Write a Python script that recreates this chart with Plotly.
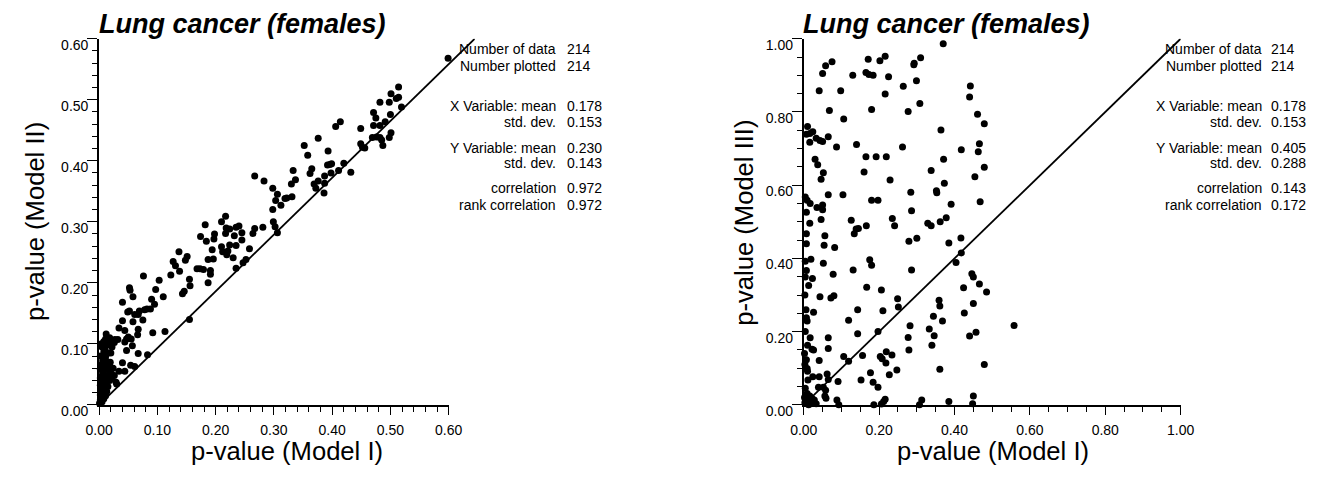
import plotly.graph_objects as go

W, H = 1333, 481
FONT = "Liberation Sans, Arial, sans-serif"

# ---------------- data ----------------
left_x = [0.599,0.514,0.501,0.514,0.510,0.482,0.498,0.519,0.471,0.475,0.500,0.491,0.482,0.471,0.449,0.406,0.414,0.376,0.352,0.393,
          0.358,0.449,0.452,0.456,0.469,0.476,0.482,0.485,0.498,0.501,0.487,0.420,0.411,0.398,0.432,0.392,0.396,0.399,0.365,0.362,
          0.333,0.337,0.330,0.387,0.376,0.369,0.372,0.387,0.386,0.267,0.283,0.298,0.306,0.303,0.319,0.322,0.312,0.331,0.298,0.299,
          0.302,0.306,0.281,0.267,0.264,0.240,0.245,0.245,0.258,0.252,0.247,
          0.235,0.232,0.198,0.197,0.184,0.174,0.217,0.182,0.218,0.224,
          0.137,0.151,0.148,0.127,0.131,0.138,0.123,0.076,0.103,0.097,0.110,0.090,0.095,0.088,0.082,0.078,0.069,0.067,0.061,0.058,
          0.075,0.052,0.049,0.040,0.052,0.053,0.058,0.040,0.034,0.044,0.067,0.066,0.092,0.113,0.047,0.050,0.055,0.044,0.057,0.047,
          0.067,0.083,0.040,0.054,0.061,0.044,0.034,0.026,0.029,0.030,0.022,0.016,0.011,0.005,0.013,0.011,0.008,0.005,0.012,0.011,
          0.019,0.027,0.032,0.023,0.002,0.005,0.004,0.002,0.008,0.005,0.002,0.001,
          0.143,0.155,0.156,0.168,0.173,0.179,0.191,0.191,0.187,0.187,0.196,0.194,0.210,0.212,0.219,0.224,0.221,0.235,0.230,0.235,
          0.155,0.210,0.217,0.146,
          0.002,0.004,0.006,0.003,0.008,0.010,0.012,0.005,0.002,0.007,0.009,0.014,0.003,0.006,0.002,0.010,0.014,0.018,0.008,0.004,
          0.016,0.019,0.001,0.005,0.008,0.011,0.013,0.015,0.018,0.020,0.024,0.006,0.012,0.016,0.022,0.026,0.020]
left_y = [0.568,0.521,0.510,0.504,0.502,0.496,0.496,0.488,0.479,0.470,0.476,0.464,0.458,0.458,0.453,0.456,0.464,0.437,0.425,0.416,
          0.409,0.428,0.422,0.421,0.438,0.439,0.438,0.434,0.438,0.446,0.425,0.396,0.384,0.380,0.381,0.393,0.394,0.395,0.387,0.379,
          0.384,0.369,0.362,0.375,0.367,0.362,0.355,0.363,0.347,0.375,0.367,0.355,0.345,0.335,0.338,0.339,0.327,0.341,0.320,0.300,
          0.292,0.282,0.291,0.289,0.281,0.293,0.282,0.270,0.256,0.238,0.233,
          0.291,0.277,0.280,0.272,0.268,0.276,0.281,0.295,0.290,0.288,
          0.251,0.243,0.237,0.235,0.228,0.219,0.213,0.211,0.204,0.189,0.177,0.173,0.165,0.157,0.157,0.156,0.154,0.148,0.148,0.136,
          0.139,0.154,0.152,0.168,0.192,0.188,0.177,0.138,0.126,0.122,0.124,0.115,0.118,0.120,0.108,0.111,0.108,0.103,0.097,0.089,
          0.084,0.082,0.069,0.065,0.063,0.055,0.055,0.048,0.037,0.034,0.045,0.058,0.058,0.061,0.071,0.079,0.087,0.095,0.116,0.108,
          0.106,0.107,0.107,0.103,0.058,0.048,0.037,0.032,0.029,0.021,0.016,0.003,
          0.182,0.206,0.195,0.223,0.223,0.222,0.220,0.214,0.200,0.238,0.239,0.254,0.259,0.251,0.246,0.262,0.252,0.261,0.241,0.224,
          0.140,0.300,0.309,0.186,
          0.008,0.012,0.020,0.025,0.018,0.026,0.034,0.038,0.044,0.050,0.042,0.048,0.065,0.072,0.080,0.090,0.098,0.110,0.104,0.100,
          0.062,0.070,0.002,0.005,0.010,0.015,0.022,0.030,0.040,0.052,0.060,0.058,0.064,0.085,0.095,0.102,0.085]

right_x = [0.370,0.075,0.058,0.050,0.171,0.202,0.216,0.293,0.292,0.310,0.130,0.165,0.173,0.184,0.225,0.299,0.264,0.216,0.308,0.041,
           0.098,0.068,0.106,0.180,0.277,0.442,0.440,0.461,0.479,0.364,0.010,0.007,0.016,0.024,0.016,0.033,0.043,0.050,0.065,0.087,
           0.140,0.262,0.466,0.463,0.418,0.479,0.371,0.165,0.192,0.219,0.030,0.037,0.052,0.046,0.160,0.229,0.338,0.454,0.373,0.352,
           0.353,0.284,0.065,0.104,0.468,0.180,0.197,0.004,0.009,0.017,0.035,0.050,0.050,0.007,0.286,0.391,0.046,0.126,0.235,0.362,
           0.378,0.329,0.016,0.166,0.241,0.338,0.134,0.139,0.145,0.007,0.007,0.056,0.054,0.082,0.052,0.019,0.004,0.007,0.004,0.013,
           0.023,0.078,0.131,0.175,0.180,0.286,0.279,0.300,0.385,0.417,0.418,0.404,0.446,0.450,0.466,0.485,0.424,0.167,0.206,0.080,
           0.072,0.043,0.249,0.251,0.143,0.210,0.006,0.007,0.009,0.026,0.359,0.361,0.344,0.368,0.426,0.450,0.119,0.282,0.197,0.143,
           0.277,0.279,0.333,0.346,0.340,0.440,0.457,0.479,0.361,0.017,0.010,0.026,0.022,0.065,0.065,0.007,0.009,0.010,0.041,0.106,
           0.119,0.156,0.203,0.208,0.219,0.234,0.218,0.227,0.247,0.177,0.152,0.184,0.197,0.091,0.011,0.024,0.041,0.062,0.065,0.039,
           0.052,0.058,0.056,0.059,0.009,0.016,0.022,0.016,0.007,0.013,0.028,0.033,0.088,0.093,0.186,0.206,0.212,0.216,0.307,0.313,
           0.385,0.450,0.448,0.558,
           0.003,0.010,0.005,0.002,0.020,0.004,0.003,0.002,0.004,0.003]
right_y = [0.986,0.937,0.926,0.905,0.944,0.940,0.952,0.933,0.929,0.948,0.900,0.908,0.902,0.900,0.896,0.885,0.870,0.849,0.823,0.858,
           0.858,0.804,0.781,0.807,0.801,0.871,0.841,0.794,0.768,0.751,0.760,0.739,0.741,0.746,0.717,0.728,0.722,0.719,0.732,0.704,
           0.711,0.704,0.713,0.691,0.697,0.649,0.671,0.678,0.678,0.678,0.671,0.656,0.634,0.616,0.636,0.614,0.640,0.623,0.605,0.585,
           0.579,0.581,0.574,0.574,0.555,0.559,0.559,0.568,0.559,0.550,0.539,0.546,0.533,0.526,0.530,0.548,0.506,0.504,0.509,0.500,
           0.511,0.496,0.496,0.489,0.489,0.489,0.467,0.480,0.482,0.467,0.440,0.462,0.436,0.430,0.387,0.398,0.392,0.367,0.349,0.326,
           0.345,0.357,0.368,0.396,0.381,0.368,0.447,0.455,0.442,0.456,0.415,0.389,0.358,0.349,0.330,0.308,0.320,0.321,0.314,0.298,
           0.292,0.295,0.290,0.267,0.260,0.257,0.260,0.238,0.229,0.253,0.286,0.270,0.242,0.229,0.251,0.277,0.231,0.216,0.200,0.194,
           0.184,0.150,0.207,0.189,0.163,0.188,0.198,0.110,0.097,0.183,0.163,0.150,0.152,0.183,0.154,0.123,0.099,0.092,0.121,0.132,
           0.119,0.135,0.132,0.126,0.145,0.136,0.114,0.082,0.095,0.088,0.068,0.062,0.048,0.064,0.068,0.077,0.077,0.084,0.069,0.048,
           0.048,0.040,0.024,0.018,0.031,0.024,0.017,0.011,0.004,0.000,0.013,0.003,0.013,0.000,0.000,0.002,0.009,0.015,0.000,0.013,
           0.009,0.024,0.003,0.217,
           0.006,0.008,0.015,0.020,0.005,0.045,0.110,0.140,0.200,0.300]

assert len(left_x) == len(left_y)
assert len(right_x) == len(right_y)

diag_x = [0, 1]
diag_y = [0, 1]

left_ticks = [0.0, 0.1, 0.2, 0.3, 0.4, 0.5, 0.6]
right_ticks = [0.0, 0.2, 0.4, 0.6, 0.8, 1.0]

title_text = "Lung cancer (females)"
x_title = "p-value (Model I)"
left_y_title = "p-value (Model II)"
right_y_title = "p-value (Model III)"

stat_labels = ["Number of data", "Number plotted", "X Variable: mean", "std. dev.",
               "Y Variable: mean", "std. dev.", "correlation", "rank correlation"]
left_values = ["214", "214", "0.178", "0.153", "0.230", "0.143", "0.972", "0.972"]
right_values = ["214", "214", "0.178", "0.153", "0.405", "0.288", "0.143", "0.172"]

# ---------------- layout geometry (pixels) ----------------
L_X0, L_X1, L_DIAG_X1 = 87, 444, 470.7
R_X0, R_X1 = 806.7, 1191.7
Y_TOP, Y_BOT = 38, 416.7
ROW_PX = [49, 66, 107.7, 124, 151, 166.7, 192.7, 209.5]


def fx(p):
    return p / W


def fy(p):
    return 1 - p / H


y_domain = [fy(Y_BOT), fy(Y_TOP)]


def axis(ticks, minor_dtick, ticklen, is_y):
    d = dict(
        range=[0, ticks[-1]],
        tickmode="array",
        tickvals=ticks,
        ticktext=[f"{t:.2f}" for t in ticks],
        ticks="outside", ticklen=ticklen, tickwidth=1.3, tickcolor="black",
        showline=True, linecolor="black", linewidth=2,
        showgrid=False, zeroline=False, fixedrange=True,
        tickfont=dict(family=FONT, size=14, color="black"),
        minor=dict(ticks="outside", ticklen=5, tickwidth=1.2, tickcolor="black",
                   tick0=0, dtick=minor_dtick, showgrid=False),
    )
    if is_y:
        d["ticklabelshift"] = 6
        d["ticklabelstandoff"] = -4
    else:
        d["ticklabelstandoff"] = 3
    return d


fig = go.Figure()

marker = dict(color="black", size=7, line=dict(width=0))
fig.add_trace(go.Scatter(x=left_x, y=left_y, mode="markers", marker=marker,
                         xaxis="x", yaxis="y", cliponaxis=False, hoverinfo="skip"))
fig.add_trace(go.Scatter(x=diag_x, y=diag_y, mode="lines", line=dict(color="black", width=1.8),
                         xaxis="x3", yaxis="y3", hoverinfo="skip"))
fig.add_trace(go.Scatter(x=right_x, y=right_y, mode="markers", marker=marker,
                         xaxis="x2", yaxis="y2", cliponaxis=False, hoverinfo="skip"))
fig.add_trace(go.Scatter(x=diag_x, y=diag_y, mode="lines", line=dict(color="black", width=1.8),
                         xaxis="x2", yaxis="y2", hoverinfo="skip"))

annotations = []
txt_font = dict(family=FONT, size=14, color="black")
for lbl_px, val_px, vals in [(555, 564, left_values), (1275.7, 1283.3, right_values)]:
    for lab, val, ry in zip(stat_labels, vals, ROW_PX):
        annotations.append(dict(text=lab, x=fx(lbl_px), y=fy(ry), xref="paper", yref="paper",
                                xanchor="right", yanchor="middle", showarrow=False, font=txt_font,
                                borderpad=0))
        annotations.append(dict(text=val, x=fx(val_px), y=fy(ry), xref="paper", yref="paper",
                                xanchor="left", yanchor="middle", showarrow=False, font=txt_font,
                                borderpad=0))

title_font = dict(family=FONT, size=27, color="black")
for tx in (86, 805):
    annotations.append(dict(text=f"<b><i>{title_text}</i></b>", x=fx(tx), y=fy(23), xref="paper", yref="paper",
                            xanchor="left", yanchor="middle", showarrow=False, font=title_font, borderpad=0))

ax_font = dict(family=FONT, size=25.6, color="black")
for cx in (279, 1000):
    annotations.append(dict(text=x_title, x=fx(cx), y=fy(464), xref="paper", yref="paper",
                            xanchor="center", yanchor="middle", showarrow=False, font=ax_font, borderpad=0))
for cx, cy, t in ((22, 227, left_y_title), (746, 228, right_y_title)):
    annotations.append(dict(text=t, x=fx(cx), y=fy(cy), xref="paper", yref="paper", textangle=-90,
                            xanchor="center", yanchor="middle", showarrow=False, font=ax_font, borderpad=0))

fig.update_layout(
    width=W, height=H,
    margin=dict(l=0, r=0, t=0, b=0),
    paper_bgcolor="white", plot_bgcolor="rgba(0,0,0,0)",
    showlegend=False,
    xaxis=dict(axis(left_ticks, 0.02, 8, False), domain=[fx(L_X0), fx(L_X1)], anchor="y"),
    yaxis=dict(axis(left_ticks, 0.02, 10, True), domain=y_domain, anchor="x"),
    xaxis2=dict(axis(right_ticks, 0.05, 8, False), domain=[fx(R_X0), fx(R_X1)], anchor="y2"),
    yaxis2=dict(axis(right_ticks, 0.05, 10, True), domain=y_domain, anchor="x2"),
    xaxis3=dict(domain=[fx(L_X0), fx(L_DIAG_X1)], range=[0, 1], visible=False, anchor="y3", fixedrange=True),
    yaxis3=dict(domain=y_domain, range=[0, 1], visible=False, anchor="x3", fixedrange=True),
    annotations=annotations,
)

fig.write_html("out.html")
